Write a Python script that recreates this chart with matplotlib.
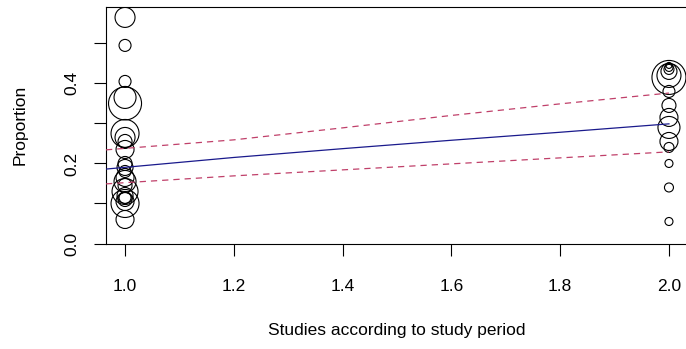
import numpy as np, matplotlib
matplotlib.use("Agg"); import matplotlib.pyplot as plt

# study proportions grouped by study period (1 / 2); bubble radius ~ study weight (px)
p1 = [0.565, 0.495, 0.405, 0.365, 0.350, 0.275, 0.265, 0.255, 0.235, 0.200, 0.190,
      0.180, 0.165, 0.155, 0.145, 0.130, 0.120, 0.115, 0.110, 0.105, 0.100, 0.060]
r1 = [10, 6, 6, 11, 16.5, 14, 10, 7, 9, 7, 8, 6, 9, 11, 7, 13, 8, 6, 7, 9, 14, 9]
p2 = [0.445, 0.440, 0.435, 0.430, 0.420, 0.415, 0.380, 0.345, 0.315, 0.290,
      0.255, 0.240, 0.200, 0.140, 0.055]
r2 = [3, 4, 5, 8, 12, 17, 6, 7, 9, 11, 9, 5, 4, 4.5, 4]

# meta-regression fit and 95% CI
xfit = [0.965, 1.2, 1.4, 1.6, 1.8, 2.0]
fit = [0.186, 0.215, 0.237, 0.258, 0.278, 0.299]
ci_hi = [0.234, 0.259, 0.289, 0.320, 0.349, 0.376]
ci_lo = [0.149, 0.169, 0.184, 0.199, 0.214, 0.229]

plt.rcParams.update({"font.family": ["Liberation Sans", "DejaVu Sans"], "font.size": 12.5})
fig = plt.figure(figsize=(6.86, 3.49), dpi=100)
ax = fig.add_axes([106/686, 105.5/349, 582/686, 236.5/349])

px = 0.72  # points per pixel at 100 dpi
for xv, ps, rs in [(1.0, p1, r1), (2.0, p2, r2)]:
    ax.scatter(np.full(len(ps), xv), ps, s=(2*np.array(rs)*px)**2, facecolors="none",
               edgecolors="black", linewidths=0.8, zorder=2)

ax.plot(xfit, fit, color="#1a1a8c", lw=0.9, zorder=3)
ax.plot(xfit, ci_hi, color="#c0406a", lw=0.9, ls=(0, (5, 4)), zorder=3)
ax.plot(xfit, ci_lo, color="#c0406a", lw=0.9, ls=(0, (5, 4)), zorder=3)

ax.set_xlim(0.965, 2.035); ax.set_ylim(0, 0.591)
ax.set_xticks(np.arange(1.0, 2.01, 0.2))
ax.set_xticklabels([f"{v:.1f}" for v in np.arange(1.0, 2.01, 0.2)])
ax.set_yticks(np.arange(0, 0.51, 0.1))
ax.set_yticklabels(["0.0", "", "0.2", "", "0.4", ""], rotation=90, va="center")
ax.tick_params(length=8.5, width=0.8, colors="black", labelsize=12.5)
ax.tick_params(axis="x", pad=17)
ax.tick_params(axis="y", pad=11)
for s in ax.spines.values():
    s.set_linewidth(0.8)
ax.set_xlabel("Studies according to study period", labelpad=21)
ax.set_ylabel("Proportion", labelpad=26)

fig.savefig("out.png", dpi=100)
